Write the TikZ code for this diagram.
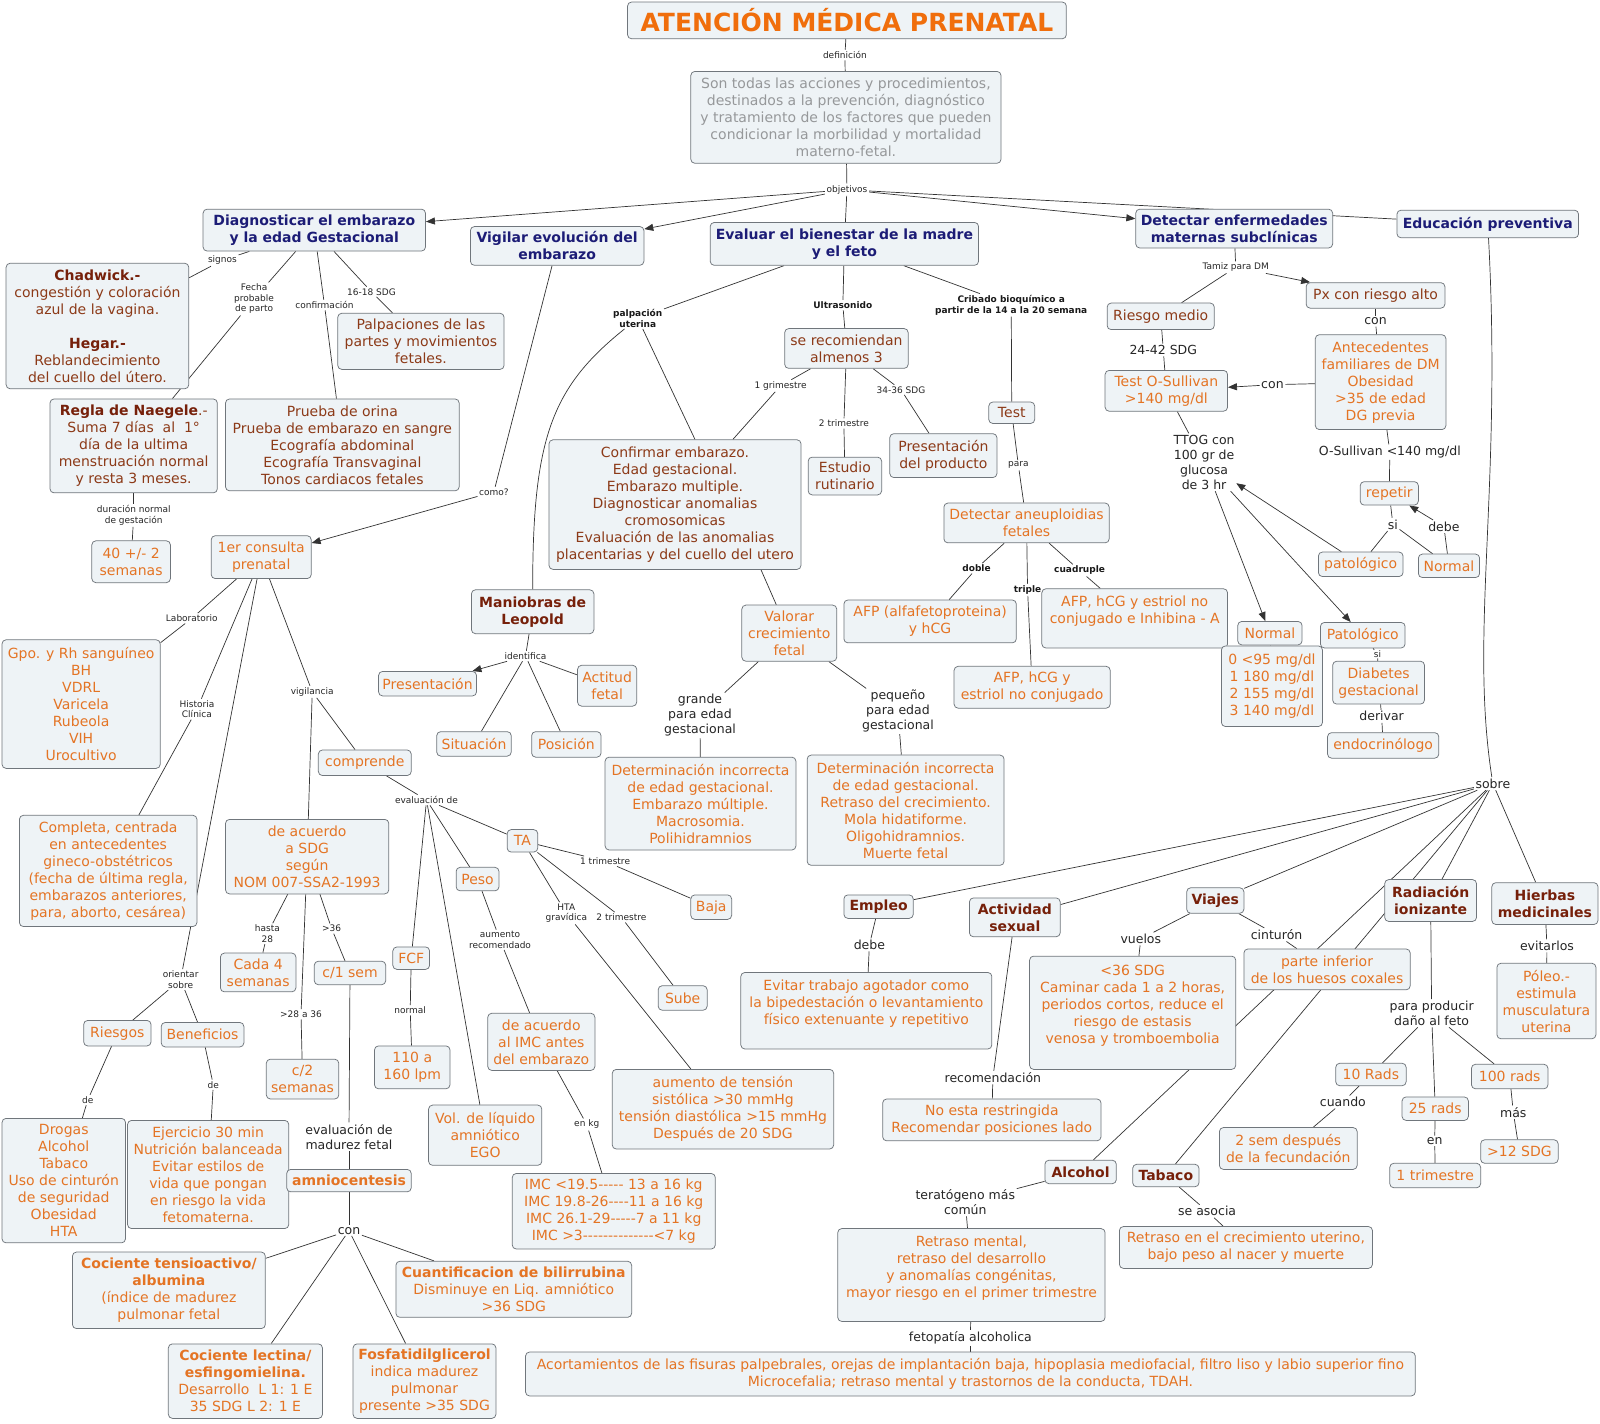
\documentclass[tikz,border=0pt]{standalone}
\usepackage{fontspec}
\setmainfont{DejaVu Sans}
\usetikzlibrary{arrows.meta}
\definecolor{boxfill}{RGB}{238,243,246}
\definecolor{boxline}{RGB}{112,118,124}
\definecolor{orgtxt}{RGB}{228,116,36}
\definecolor{titleor}{RGB}{240,110,12}
\definecolor{brtxt}{RGB}{140,58,24}
\definecolor{hbrown}{RGB}{118,32,10}
\definecolor{navy}{RGB}{28,28,118}
\definecolor{graytxt}{RGB}{150,152,154}
\pgfdeclarelayer{bgl}
\pgfdeclarelayer{edges}
\pgfsetlayers{bgl,edges,main}
\newcommand\lnk[3][cn]{\draw[#1] (#2) -- (#3);}
% box from corner (#2,#3) to corner (#4,#5), style #6, text #7
\newcommand\bxn[7]{%
  \pgfmathsetmacro\bxcx{(#2+#4)/2}%
  \pgfmathsetmacro\bxcy{(#3+#5)/2}%
  \pgfmathsetmacro\bxw{(#4-#2)*1.0204}%
  \pgfmathsetmacro\bxh{(#5-#3)*1.0204}%
  \node[box,#6,minimum width=\bxw pt,minimum height=\bxh pt] (#1) at (\bxcx,\bxcy) {#7};}
\begin{document}
\begin{tikzpicture}[x=1.0204pt,y=-1.0204pt,
  box/.style={draw=boxline, fill=boxfill, rounded corners=4pt, inner sep=0pt, line width=0.75pt, align=center, font=\fontsize{14}{17}\selectfont},
  ot/.style={text=orgtxt},
  bt/.style={text=brtxt},
  hb/.style={text=hbrown, font=\fontsize{14}{17}\selectfont\bfseries},
  nv/.style={text=navy, font=\fontsize{14}{17}\selectfont\bfseries},
  gt/.style={text=graytxt},
  ls/.style={font=\fontsize{9}{10.5}\selectfont, text=black!85, align=center, inner sep=1.5pt},
  lsb/.style={font=\fontsize{9}{10.5}\selectfont\bfseries, text=black!90, align=center, inner sep=1.5pt},
  lm/.style={font=\fontsize{12.5}{15}\selectfont, text=black!85, align=center, inner sep=1.5pt},
  cn/.style={draw=black!80, line width=0.7pt},
  ar/.style={cn, -{Triangle[length=9pt,width=7pt]}}]
\begin{pgfonlayer}{bgl}
\fill[white] (0,0) rectangle (1568,1395);
\end{pgfonlayer}
\useasboundingbox (0,0) rectangle (1568,1395);

% ---------- top ----------
\bxn{title}{615}{2}{1045}{38}{font=\fontsize{25}{30}\selectfont\bfseries, text=titleor}{ATENCIÓN MÉDICA PRENATAL}
\node[ls] (ldef) at (828,54) {definición};
\bxn{def}{677}{70}{981}{160}{gt}{Son todas las acciones y procedimientos,\\ destinados a la prevención, diagnóstico\\ y tratamiento de los factores que pueden\\ condicionar la morbilidad y mortalidad\\ materno-fetal.}
\node[ls] (lobj) at (830,186) {objetivos};
\bxn{diag}{199}{205}{417}{246}{nv}{Diagnosticar el embarazo\\ y la edad Gestacional}
\bxn{vig}{461}{222}{631}{260}{nv}{Vigilar evolución del\\ embarazo}
\bxn{eval}{696}{218}{959}{260}{nv}{Evaluar el bienestar de la madre\\ y el feto}
\bxn{detect}{1113}{205}{1306}{243}{nv}{Detectar enfermedades\\ maternas subclínicas}
\bxn{edu}{1369}{206}{1547}{233}{nv}{Educación preventiva}

% ---------- diagnosticar ----------
\node[ls] (lsig) at (218,255) {signos};
\bxn{chad}{6}{258}{185}{381}{bt}{{\bfseries\color{hbrown}Chadwick.-}\\ congestión y coloración\\ azul de la vagina.\\[17pt] {\bfseries\color{hbrown}Hegar.-}\\ Reblandecimiento\\ del cuello del útero.}
\node[ls] (lfecha) at (249,293) {Fecha\\ probable\\ de parto};
\bxn{regla}{49}{391}{213}{483}{bt}{{\bfseries\color{hbrown}Regla de Naegele}.-\\ Suma 7 días\ \ al\ \ 1°\\ día de la ultima\\ menstruación normal\\ y resta 3 meses.}
\node[ls] (lconf) at (318,299) {confirmación};
\bxn{prueba}{221}{391}{450}{481}{bt}{Prueba de orina\\ Prueba de embarazo en sangre\\ Ecografía abdominal\\ Ecografía Transvaginal\\ Tonos cardiacos fetales}
\node[ls] (l1618) at (364,286) {16-18 SDG};
\bxn{palp}{331}{307}{494}{362}{bt}{Palpaciones de las\\ partes y movimientos\\ fetales.}
\node[ls] (ldur) at (131,505) {duración normal\\ de gestación};
\bxn{cuarenta}{90}{530}{167}{571}{ot}{40 +/- 2\\ semanas}

% ---------- vigilar ----------
\node[ls] (lcomo) at (484,482) {como?};
\bxn{consulta}{207}{525}{305}{567}{ot}{1er consulta\\ prenatal}
\node[ls] (llab) at (188,606) {Laboratorio};
\bxn{gpo}{2}{627}{157}{753}{ot}{Gpo. y Rh sanguíneo\\ BH\\ VDRL\\ Varicela\\ Rubeola\\ VIH\\ Urocultivo}
\node[ls] (lhist) at (193,695) {Historia\\ Clínica};
\bxn{completa}{19}{799}{193}{908}{ot}{Completa, centrada\\ en antecedentes\\ gineco-obstétricos\\ (fecha de última regla,\\ embarazos anteriores,\\ para, aborto, cesárea)}
\node[ls] (lorient) at (177,960) {orientar\\ sobre};
\bxn{riesgos}{82}{1000}{148}{1025}{ot}{Riesgos}
\bxn{benef}{158}{1002}{239}{1026}{ot}{Beneficios}
\node[ls] (lde1) at (86,1078) {de};
\node[ls] (lde2) at (209,1063) {de};
\bxn{drogas}{2}{1096}{123}{1218}{ot}{Drogas\\ Alcohol\\ Tabaco\\ Uso de cinturón\\ de seguridad\\ Obesidad\\ HTA}
\bxn{ejerc}{125}{1098}{283}{1204}{ot}{Ejercicio 30 min\\ Nutrición balanceada\\ Evitar estilos de\\ vida que pongan\\ en riesgo la vida\\ fetomaterna.}
\node[ls] (lvigil) at (306,678) {vigilancia};
\bxn{comprende}{312}{735}{403}{760}{ot}{comprende}
\bxn{acuerdo}{221}{803}{381}{876}{ot}{de acuerdo\\ a SDG\\ según\\ NOM 007-SSA2-1993}
\node[ls] (lhasta) at (262,915) {hasta\\ 28};
\bxn{cada4}{216}{934}{290}{972}{ot}{Cada 4\\ semanas}
\node[ls] (l2836) at (295,994) {>28 a 36};
\bxn{c2}{261}{1038}{332}{1077}{ot}{c/2\\ semanas}
\node[ls] (l36) at (325,910) {>36};
\bxn{c1}{308}{942}{378}{965}{ot}{c/1 sem}
\node[lm] (levalm) at (342,1114) {evaluación de\\ madurez fetal};
\bxn{amnio}{281}{1146}{403}{1168}{ot, font=\fontsize{14}{17}\selectfont\bfseries}{amniocentesis}
\node[lm] (lcon) at (342,1206) {con};
\bxn{coc1}{71}{1227}{260}{1302}{ot}{{\bfseries Cociente tensioactivo/}\\ {\bfseries albumina}\\ (índice de madurez\\ pulmonar fetal}
\bxn{cuant}{388}{1236}{619}{1291}{ot}{{\bfseries Cuantificacion de bilirrubina}\\ Disminuye en Liq. amniótico\\ >36 SDG}
\bxn{lect}{165}{1317}{316}{1390}{ot}{{\bfseries Cociente lectina/}\\ {\bfseries esfingomielina.}\\ Desarrollo\ \ L 1: 1 E\\ 35 SDG L 2: 1 E}
\bxn{fosf}{346}{1317}{486}{1390}{ot}{{\bfseries Fosfatidilglicerol}\\ indica madurez\\ pulmonar\\ presente >35 SDG}
\node[ls] (levd) at (418,784) {evaluación de};
\bxn{ta}{497}{813}{527}{835}{ot}{TA}
\bxn{peso}{447}{850}{489}{873}{ot}{Peso}
\bxn{fcf}{385}{928}{421}{950}{ot}{FCF}
\node[ls] (lnormal) at (402,990) {normal};
\bxn{lpm}{367}{1025}{441}{1067}{ot}{110 a\\ 160 lpm}
\bxn{vol}{420}{1083}{531}{1142}{ot}{Vol. de líquido\\ amniótico\\ EGO}
\node[ls] (laument) at (490,921) {aumento\\ recomendado};
\bxn{imc1}{478}{993}{583}{1049}{ot}{de acuerdo\\ al IMC antes\\ del embarazo}
\node[ls] (lenkg) at (575,1102) {en kg};
\bxn{imct}{502}{1150}{701}{1224}{ot}{IMC <19.5-{}-{}-{}-{}- 13 a 16 kg\\ IMC 19.8-26-{}-{}-{}-11 a 16 kg\\ IMC 26.1-29-{}-{}-{}-{}-7 a 11 kg\\ IMC >3-{}-{}-{}-{}-{}-{}-{}-{}-{}-{}-{}-{}-{}-<7 kg}
\node[ls] (l1tri) at (593,844) {1 trimestre};
\bxn{baja}{677}{877}{717}{901}{ot}{Baja}
\node[ls] (l2tri) at (609,899) {2 trimestre};
\bxn{sube}{645}{966}{693}{990}{ot}{Sube}
\node[ls] (lhta) at (555,895) {HTA\\ gravídica};
\bxn{aumento}{600}{1048}{817}{1126}{ot}{aumento de tensión\\ sistólica >30 mmHg\\ tensión diastólica >15 mmHg\\ Después de 20 SDG}

% ---------- evaluar ----------
\node[lsb] (lpalp) at (625,312) {palpación\\ uterina};
\bxn{confirm}{538}{431}{785}{558}{bt}{Confirmar embarazo.\\ Edad gestacional.\\ Embarazo multiple.\\ Diagnosticar anomalias\\ cromosomicas\\ Evaluación de las anomalias\\ placentarias y del cuello del utero}
\bxn{mani}{462}{578}{582}{621}{hb}{Maniobras de\\ Leopold}
\node[ls] (lident) at (515,643) {identifica};
\bxn{present}{371}{658}{467}{682}{ot}{Presentación}
\bxn{actitud}{566}{652}{624}{692}{ot}{Actitud\\ fetal}
\bxn{situ}{428}{717}{501}{741}{ot}{Situación}
\bxn{posi}{521}{717}{589}{742}{ot}{Posición}
\node[lsb] (lultra) at (826,299) {Ultrasonido};
\bxn{recom}{769}{322}{890}{361}{bt}{se recomiendan\\ almenos 3}
\node[ls] (l1gri) at (765,378) {1 grimestre};
\node[ls] (l2trim) at (827,415) {2 trimestre};
\bxn{estudio}{792}{448}{864}{485}{bt}{Estudio\\ rutinario}
\node[ls] (l3436) at (883,382) {34-36 SDG};
\bxn{prod}{872}{425}{977}{468}{bt}{Presentación\\ del producto}
\bxn{valorar}{727}{593}{820}{648}{ot}{Valorar\\ crecimiento\\ fetal}
\node[lm] (lgrande) at (686,701) {grande\\ para edad\\ gestacional};
\bxn{det1}{593}{742}{780}{833}{ot}{Determinación incorrecta\\ de edad gestacional.\\ Embarazo múltiple.\\ Macrosomia.\\ Polihidramnios}
\node[lm] (lpeq) at (880,697) {pequeño\\ para edad\\ gestacional};
\bxn{det2}{791}{740}{984}{848}{ot}{Determinación incorrecta\\ de edad gestacional.\\ Retraso del crecimiento.\\ Mola hidatiforme.\\ Oligohidramnios.\\ Muerte fetal}
\node[lsb] (lcrib) at (991,299) {Cribado bioquímico a\\ partir de la 14 a la 20 semana};
\bxn{test}{969}{394}{1014}{415}{bt}{Test}
\node[ls] (lpara) at (998,456) {para};
\bxn{aneu}{925}{493}{1087}{532}{ot}{Detectar aneuploidias\\ fetales}
\node[lsb] (ldoble) at (957,557) {doble};
\bxn{afp1}{827}{588}{996}{630}{ot}{AFP (alfafetoproteina)\\ y hCG}
\node[lsb] (ltriple) at (1007,578) {triple};
\bxn{afp2}{935}{653}{1088}{694}{ot}{AFP, hCG y\\ estriol no conjugado}
\node[lsb] (lcuad) at (1058,559) {cuadruple};
\bxn{afp3}{1021}{577}{1203}{635}{ot}{AFP, hCG y estriol no\\ conjugado e Inhibina - A\\ \mbox{}}

% ---------- detectar ----------
\node[ls] (ltamiz) at (1211,262) {Tamiz para DM};
\bxn{rmedio}{1085}{297}{1190}{323}{bt}{Riesgo medio}
\node[lm] (l2442) at (1140,343) {24-42 SDG};
\bxn{osul}{1083}{363}{1203}{403}{ot}{Test O-Sullivan\\ >140 mg/dl}
\bxn{palto}{1280}{277}{1416}{302}{bt}{Px con riesgo alto}
\node[lm] (lcon1) at (1348,315) {con};
\bxn{antec}{1289}{328}{1417}{421}{ot}{Antecedentes\\ familiares de DM\\ Obesidad\\ >35 de edad\\ DG previa}
\node[lm] (lcon2) at (1247,377) {con};
\node[lm] (losul) at (1362,443) {O-Sullivan <140 mg/dl};
\bxn{repetir}{1333}{472}{1390}{495}{ot}{repetir}
\node[lm] (lsi1) at (1365,514) {si};
\node[lm] (ldebe1) at (1415,516) {debe};
\bxn{patol1}{1292}{541}{1375}{565}{ot}{patológico}
\bxn{normal1}{1390}{543}{1450}{566}{ot}{Normal}
\node[lm] (lttog) at (1180,453) {TTOG con\\ 100 gr de\\ glucosa\\ de 3 hr};
\bxn{normal2}{1213}{609}{1276}{632}{ot}{Normal}
\bxn{tabla}{1197}{633}{1296}{712}{ot}{0 <95 mg/dl\\ 1 180 mg/dl\\ 2 155 mg/dl\\ 3 140 mg/dl}
\bxn{patol2}{1294}{610}{1377}{635}{ot}{Patológico}
\node[lm, font=\fontsize{9}{10}\selectfont, inner sep=0.5pt] (lsi2) at (1350,641) {si};
\bxn{diab}{1306}{648}{1396}{690}{ot}{Diabetes\\ gestacional}
\node[lm] (lderiv) at (1354,702) {derivar};
\bxn{endo}{1301}{718}{1410}{743}{ot}{endocrinólogo}

% ---------- educacion ----------
\node[lm] (lsobre) at (1463,768) {sobre};
\bxn{empleo}{827}{877}{895}{900}{hb}{Empleo}
\node[lm] (ldebe2) at (852,926) {debe};
\bxn{evitar}{726}{953}{972}{1028}{ot}{Evitar trabajo agotador como\\ la bipedestación o levantamiento\\ físico extenuante y repetitivo\\ \mbox{}}
\bxn{activ}{950}{880}{1039}{918}{hb}{Actividad\\ sexual}
\node[lm] (lrecom) at (973,1056) {recomendación};
\bxn{norest}{865}{1077}{1079}{1118}{ot}{No esta restringida\\ Recomendar posiciones lado}
\bxn{viajes}{1163}{870}{1219}{895}{hb}{Viajes}
\node[lm] (lvuelos) at (1118,920) {vuelos};
\bxn{box36}{1009}{937}{1211}{1048}{ot}{<36 SDG\\ Caminar cada 1 a 2 horas,\\ periodos cortos, reduce el\\ riesgo de estasis\\ venosa y tromboembolia\\ \mbox{}}
\node[lm] (lcint) at (1251,916) {cinturón};
\bxn{parteinf}{1219}{930}{1382}{970}{ot}{parte inferior\\ de los huesos coxales}
\bxn{alcohol}{1024}{1137}{1094}{1160}{hb}{Alcohol}
\node[lm] (lterat) at (946,1178) {teratógeno más\\ común};
\bxn{retraso}{821}{1204}{1083}{1295}{ot}{Retraso mental,\\ retraso del desarrollo\\ y anomalías congénitas,\\ mayor riesgo en el primer trimestre\\ \mbox{}}
\node[lm] (lfeto) at (951,1311) {fetopatía alcoholica};
\bxn{acort}{515}{1325}{1387}{1368}{ot}{Acortamientos de las fisuras palpebrales, orejas de implantación baja, hipoplasia mediofacial, filtro liso y labio superior fino\\ Microcefalia; retraso mental y trastornos de la conducta, TDAH.}
\bxn{tabaco}{1110}{1141}{1175}{1163}{hb}{Tabaco}
\node[lm] (lasocia) at (1183,1187) {se asocia};
\bxn{retuter}{1097}{1202}{1345}{1243}{ot}{Retraso en el crecimiento uterino,\\ bajo peso al nacer y muerte}
\bxn{radia}{1357}{862}{1447}{903}{hb}{Radiación\\ ionizante}
\node[lm] (lparaprod) at (1403,993) {para producir\\ daño al feto};
\bxn{rads10}{1309}{1042}{1378}{1064}{ot}{10 Rads}
\node[lm] (lcuando) at (1316,1080) {cuando};
\bxn{sem2}{1195}{1105}{1330}{1146}{ot}{2 sem después\\ de la fecundación}
\bxn{rads25}{1374}{1075}{1439}{1098}{ot}{25 rads}
\node[lm] (len) at (1406,1118) {en};
\bxn{trim1}{1362}{1140}{1451}{1164}{ot}{1 trimestre}
\bxn{rads100}{1442}{1043}{1517}{1067}{ot}{100 rads}
\node[lm] (lmas) at (1483,1090) {más};
\bxn{sdg12}{1451}{1117}{1527}{1140}{ot}{>12 SDG}
\bxn{hierbas}{1462}{865}{1566}{906}{hb}{Hierbas\\ medicinales}
\node[lm] (levit) at (1516,927) {evitarlos};
\bxn{poleo}{1467}{944}{1564}{1018}{ot}{Póleo.-\\ estimula\\ musculatura\\ uterina}

% ---------- connectors ----------
\begin{pgfonlayer}{edges}
\lnk{title}{ldef}\lnk{ldef}{def}\lnk{def}{lobj}
\lnk[ar]{lobj}{diag}\lnk[ar]{lobj}{vig}\lnk{lobj}{eval}\lnk[ar]{lobj}{detect}\lnk{lobj}{edu}
\lnk{diag}{lsig}\lnk{lsig}{chad}
\lnk{diag}{lfecha}\lnk{lfecha}{regla}
\lnk{diag}{lconf}\lnk{lconf}{prueba}
\lnk{diag}{l1618}\lnk{l1618}{palp}
\lnk{regla}{ldur}\lnk{ldur}{cuarenta}
\lnk{vig}{lcomo}\lnk[ar]{lcomo}{consulta}
\lnk{consulta}{llab}\lnk{llab}{gpo}
\lnk{consulta}{lhist}\lnk{lhist}{completa}
\lnk{consulta}{lorient}\lnk{lorient}{riesgos}\lnk{lorient}{benef}
\lnk{riesgos}{lde1}\lnk{lde1}{drogas}
\lnk{benef}{lde2}\lnk{lde2}{ejerc}
\lnk{consulta}{lvigil}\lnk{lvigil}{comprende}\lnk{lvigil}{acuerdo}
\lnk{acuerdo}{lhasta}\lnk{lhasta}{cada4}
\lnk{acuerdo}{l2836}\lnk{l2836}{c2}
\lnk{acuerdo}{l36}\lnk{l36}{c1}
\lnk{c1}{levalm}\lnk{levalm}{amnio}\lnk{amnio}{lcon}
\lnk{lcon}{coc1}\lnk{lcon}{cuant}\lnk{lcon}{lect}\lnk{lcon}{fosf}
\lnk{comprende}{levd}\lnk{levd}{ta}\lnk{levd}{peso}\lnk{levd}{fcf}\lnk{levd}{vol}
\lnk{fcf}{lnormal}\lnk{lnormal}{lpm}
\lnk{peso}{laument}\lnk{laument}{imc1}\lnk{imc1}{lenkg}\lnk{lenkg}{imct}
\lnk{ta}{l1tri}\lnk{l1tri}{baja}
\lnk{ta}{l2tri}\lnk{l2tri}{sube}
\lnk{ta}{lhta}\lnk{lhta}{aumento}
\lnk{eval}{lpalp}
\draw[cn] (lpalp) -- ([xshift=20pt]confirm.north);
\draw[cn] (lpalp) .. controls (540,380) and (522,430) .. (mani.north);
\lnk{mani}{lident}\lnk[ar]{lident}{present}\lnk{lident}{actitud}\lnk{lident}{situ}\lnk{lident}{posi}
\lnk{eval}{lultra}\lnk{lultra}{recom}
\lnk{recom}{l1gri}\lnk{l1gri}{confirm}
\lnk{recom}{l2trim}\lnk{l2trim}{estudio}
\lnk{recom}{l3436}\lnk{l3436}{prod}
\draw[cn] ([xshift=86pt]confirm.south) -- ([xshift=-13pt]valorar.north);
\lnk{valorar}{lgrande}\lnk{lgrande}{det1}
\lnk{valorar}{lpeq}\lnk{lpeq}{det2}
\lnk{eval}{lcrib}\lnk{lcrib}{test}\lnk{test}{lpara}\lnk{lpara}{aneu}
\lnk{aneu}{ldoble}\lnk{ldoble}{afp1}
\lnk{aneu}{ltriple}\lnk{ltriple}{afp2}
\lnk{aneu}{lcuad}\lnk{lcuad}{afp3}
\lnk{detect}{ltamiz}\lnk{ltamiz}{rmedio}\lnk[ar]{ltamiz}{palto}
\lnk{rmedio}{l2442}\lnk{l2442}{osul}
\lnk{palto}{lcon1}\lnk{lcon1}{antec}
\lnk{antec}{lcon2}\lnk[ar]{lcon2}{osul}
\lnk{antec}{losul}\lnk{losul}{repetir}
\lnk{repetir}{lsi1}\lnk{lsi1}{patol1}\lnk{lsi1}{normal1}
\lnk{normal1}{ldebe1}\lnk[ar]{ldebe1}{repetir}
\lnk[ar]{patol1}{lttog}
\lnk{osul}{lttog}\lnk[ar]{lttog}{normal2}\lnk[ar]{lttog}{patol2}
\lnk{normal2}{tabla}
\lnk{patol2}{lsi2}\lnk{lsi2}{diab}\lnk{diab}{lderiv}\lnk{lderiv}{endo}
\draw[cn] (edu) .. controls (1472,480) and (1440,620) .. (lsobre);
\lnk{lsobre}{empleo}\lnk{lsobre}{activ}\lnk{lsobre}{viajes}\lnk{lsobre}{alcohol}\lnk{lsobre}{tabaco}\lnk{lsobre}{radia}\lnk{lsobre}{hierbas}
\lnk{empleo}{ldebe2}\lnk{ldebe2}{evitar}
\lnk{activ}{lrecom}\lnk{lrecom}{norest}
\lnk{viajes}{lvuelos}\lnk{lvuelos}{box36}
\lnk{viajes}{lcint}\lnk{lcint}{parteinf}
\lnk{alcohol}{lterat}\lnk{lterat}{retraso}
\lnk{retraso}{lfeto}\lnk{lfeto}{acort}
\lnk{tabaco}{lasocia}\lnk{lasocia}{retuter}
\lnk{radia}{lparaprod}\lnk{lparaprod}{rads10}\lnk{lparaprod}{rads25}\lnk{lparaprod}{rads100}
\lnk{rads10}{lcuando}\lnk{lcuando}{sem2}
\lnk{rads25}{len}\lnk{len}{trim1}
\lnk{rads100}{lmas}\lnk{lmas}{sdg12}
\lnk{hierbas}{levit}\lnk{levit}{poleo}
\end{pgfonlayer}
\end{tikzpicture}
\end{document}
